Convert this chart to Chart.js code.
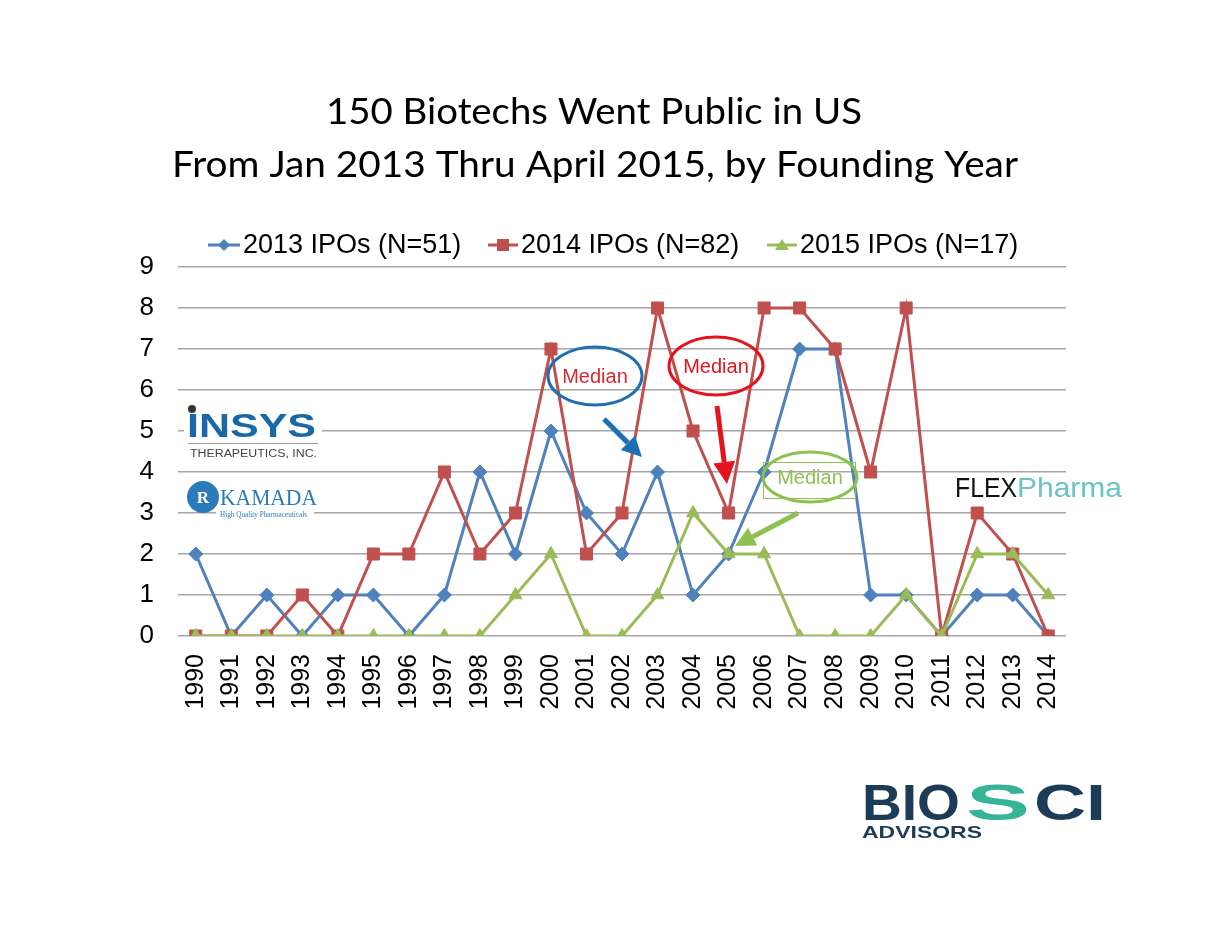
<!DOCTYPE html>
<html>
<head>
<meta charset="utf-8">
<title>150 Biotechs Went Public in US</title>
<script src="https://cdn.jsdelivr.net/npm/chart.js@4.4.1/dist/chart.umd.min.js"></script>
<style>
  body { margin: 0; background: #fff; }
  #wrap { width: 1210px; height: 935px; }
</style>
</head>
<body>
<div id="wrap"><canvas id="ipoChart" width="1210" height="935"></canvas></div>
<script>
// founding year of each company
const years = ["1990","1991","1992","1993","1994","1995","1996","1997","1998","1999",
  "2000","2001","2002","2003","2004","2005","2006","2007","2008","2009",
  "2010","2011","2012","2013","2014"];

const ipos2013 = [2,0,1,0,1,1,0,1,4,2,5,3,2,4,1,2,4,7,7,1,1,0,1,1,0];
const ipos2014 = [0,0,0,1,0,2,2,4,2,3,7,2,3,8,5,3,8,8,7,4,8,0,3,2,0];
const ipos2015 = [0,0,0,0,0,0,0,0,0,1,2,0,0,1,3,2,2,0,0,0,1,0,2,2,1];

const seriesNames = ["2013 IPOs (N=51)", "2014 IPOs (N=82)", "2015 IPOs (N=17)"];
const yTicks = [0,1,2,3,4,5,6,7,8,9];

const BLUE = "#4F81BD", RED = "#C0504D", GREEN = "#9BBB59";
const SANS = "'Liberation Sans', Arial, sans-serif";
const SERIF = "'Liberation Serif', serif";

// draw text squeezed/stretched into a given width
function fitText(ctx, txt, font, x, y, w, align){
  ctx.save();
  ctx.font = font;
  const m = ctx.measureText(txt).width;
  const sx = w / m;
  let left = x;
  if(align === "center") left = x - w/2;
  ctx.translate(left, y);
  ctx.scale(sx, 1);
  ctx.textAlign = "left";
  ctx.fillText(txt, 0, 0);
  ctx.restore();
}

function arrow(ctx, x1, y1, x2, y2, color, lw, head){
  const a = Math.atan2(y2 - y1, x2 - x1);
  const bx = x2 - Math.cos(a) * head, by = y2 - Math.sin(a) * head;
  ctx.save();
  ctx.strokeStyle = color; ctx.fillStyle = color; ctx.lineWidth = lw;
  ctx.beginPath(); ctx.moveTo(x1, y1); ctx.lineTo(bx, by); ctx.stroke();
  ctx.beginPath();
  ctx.moveTo(x2, y2);
  ctx.lineTo(bx + Math.sin(a) * head * 0.5, by - Math.cos(a) * head * 0.5);
  ctx.lineTo(bx - Math.sin(a) * head * 0.5, by + Math.cos(a) * head * 0.5);
  ctx.closePath(); ctx.fill();
  ctx.restore();
}

function medianBubble(ctx, cx, cy, rx, ry, ring, textColor){
  ctx.save();
  ctx.strokeStyle = ring; ctx.lineWidth = 3;
  ctx.beginPath(); ctx.ellipse(cx, cy, rx, ry, 0, 0, Math.PI * 2); ctx.stroke();
  ctx.fillStyle = textColor;
  ctx.font = "20px " + SANS;
  ctx.textAlign = "center"; ctx.textBaseline = "middle";
  ctx.fillText("Median", cx, cy + 1);
  ctx.restore();
}

const decor = {
  id: "decor",
  beforeDraw(chart){
    const ctx = chart.ctx;
    ctx.save(); ctx.fillStyle = "#fff";
    ctx.fillRect(0, 0, chart.width, chart.height); ctx.restore();
  },
  afterDraw(chart){
    const ctx = chart.ctx;

    // title
    ctx.save();
    ctx.fillStyle = "#000";
    ctx.textBaseline = "alphabetic";
    fitText(ctx, "150 Biotechs Went Public in US", "37px Lato, sans-serif", 594, 124, 536, "center");
    fitText(ctx, "From Jan 2013 Thru April 2015, by Founding Year", "37px Lato, sans-serif", 595, 177, 846, "center");
    ctx.restore();

    // legend
    const items = [
      {x: 208, tx: 243, color: BLUE, style: "diamond"},
      {x: 488, tx: 521, color: RED, style: "square"},
      {x: 767, tx: 800, color: GREEN, style: "triangle"}
    ];
    ctx.save();
    items.forEach((it, i) => {
      const y = 245;
      ctx.strokeStyle = it.color; ctx.fillStyle = it.color; ctx.lineWidth = 3;
      ctx.beginPath(); ctx.moveTo(it.x, y); ctx.lineTo(it.tx - 3, y); ctx.stroke();
      const mx = (it.x + it.tx - 3) / 2;
      ctx.beginPath();
      if(it.style === "diamond"){
        ctx.moveTo(mx, y - 6); ctx.lineTo(mx + 6, y); ctx.lineTo(mx, y + 6); ctx.lineTo(mx - 6, y);
      } else if(it.style === "square"){
        ctx.rect(mx - 6, y - 6, 12, 12);
      } else {
        ctx.moveTo(mx, y - 6); ctx.lineTo(mx + 7, y + 5); ctx.lineTo(mx - 7, y + 5);
      }
      ctx.closePath(); ctx.fill();
      ctx.fillStyle = "#000";
      ctx.font = "27px " + SANS;
      ctx.textBaseline = "middle";
      ctx.fillText(seriesNames[i], it.tx, y + 1);
    });
    ctx.restore();

    // median notes
    medianBubble(ctx, 595, 376, 47, 29, "#1F6FB5", "#D42A2F");
    arrow(ctx, 604, 419, 642, 457, "#1F6FB5", 5, 20);
    medianBubble(ctx, 716, 366, 47, 29, "#E3141E", "#E3141E");
    arrow(ctx, 717, 406, 727, 484, "#E3141E", 5, 22);
    ctx.save();
    ctx.strokeStyle = "#8DC151"; ctx.lineWidth = 1;
    ctx.strokeRect(763.5, 462.5, 92, 36);
    ctx.restore();
    medianBubble(ctx, 810, 477, 47, 25, "#8DC151", "#8DC151");
    arrow(ctx, 798, 513, 735, 546, "#8DC151", 5, 20);

    // logos (as text, on white patches like pasted images)
    ctx.save();
    ctx.fillStyle = "#fff";
    ctx.fillRect(184, 404, 138, 36);
    ctx.fillRect(216, 509, 98, 10);
    ctx.textBaseline = "alphabetic";
    ctx.fillStyle = "#1B68A9";
    fitText(ctx, "INSYS", "bold 33px " + SANS, 187, 437, 129);
    ctx.fillStyle = "#333";
    ctx.beginPath(); ctx.arc(192, 409, 4, 0, Math.PI * 2); ctx.fill();
    ctx.strokeStyle = "#999"; ctx.lineWidth = 1;
    ctx.beginPath(); ctx.moveTo(188, 443.5); ctx.lineTo(318, 443.5); ctx.stroke();
    ctx.fillStyle = "#444";
    fitText(ctx, "THERAPEUTICS, INC.", "10px " + SANS, 190, 457, 127);

    ctx.fillStyle = "#2B7BBA";
    ctx.beginPath(); ctx.arc(203, 497, 16, 0, Math.PI * 2); ctx.fill();
    ctx.fillStyle = "#fff";
    ctx.font = "bold 17px " + SERIF;
    ctx.textAlign = "center";
    ctx.fillText("R", 203, 503);
    ctx.textAlign = "left";
    ctx.fillStyle = "#2B7BBA";
    fitText(ctx, "KAMADA", "24px " + SERIF, 220, 505, 97);
    fitText(ctx, "High Quality Pharmaceuticals", "9px " + SERIF, 220, 517, 87);

    ctx.fillStyle = "#111";
    fitText(ctx, "FLEX", "28px " + SANS, 955, 497, 62);
    ctx.fillStyle = "#6BC3C4";
    fitText(ctx, "Pharma", "28px " + SANS, 1017, 497, 105);

    ctx.fillStyle = "#1C3B57";
    fitText(ctx, "BIO", "bold 50px " + SANS, 862, 820, 98);
    ctx.fillStyle = "#35B497";
    fitText(ctx, "S", "bold 50px " + SANS, 966, 820, 64);
    ctx.fillStyle = "#1C3B57";
    fitText(ctx, "CI", "bold 50px " + SANS, 1034, 820, 72);
    fitText(ctx, "ADVISORS", "bold 17px " + SANS, 862, 838, 120);
    ctx.restore();
  }
};

const ctx = document.getElementById("ipoChart");

new Chart(ctx, {
  type: "line",
  data: {
    labels: years,
    datasets: [
      {
        label: seriesNames[0], data: ipos2013, order: 2,
        borderColor: BLUE, backgroundColor: BLUE, borderWidth: 3,
        pointStyle: "rectRot", pointRadius: 7, pointBorderWidth: 1
      },
      {
        label: seriesNames[1], data: ipos2014, order: 1,
        borderColor: RED, backgroundColor: RED, borderWidth: 3,
        pointStyle: "rect", pointRadius: 8.5, pointBorderWidth: 1
      },
      {
        label: seriesNames[2], data: ipos2015, order: 0,
        borderColor: GREEN, backgroundColor: GREEN, borderWidth: 3,
        pointStyle: "triangle", pointRadius: 7.5, pointBorderWidth: 1
      }
    ]
  },
  options: {
    responsive: false,
    animation: false,
    layout: { padding: { top: 267, right: 144, left: 0, bottom: 0 } },
    plugins: {
      legend: { display: false },
      title: { display: false },
      tooltip: { enabled: false }
    },
    scales: {
      x: {
        offset: true,
        grid: { display: false, drawTicks: false },
        border: { display: false },
        ticks: {
          autoSkip: false, maxRotation: 90, minRotation: 90, padding: 18,
          color: "#000", font: { family: SANS, size: 25 }
        },
        afterFit(scale){ scale.height = 299; }
      },
      y: {
        min: 0, max: 9,
        grid: { color: "#A6A6A6", lineWidth: 1.5, drawTicks: false },
        border: { display: false },
        ticks: {
          stepSize: 1, padding: 24, color: "#000",
          font: { family: SANS, size: 26 },
          callback: (v) => yTicks.includes(v) ? String(v) : ""
        },
        afterFit(scale){ scale.width = 178; }
      }
    }
  },
  plugins: [decor]
});
</script>
</body>
</html>
